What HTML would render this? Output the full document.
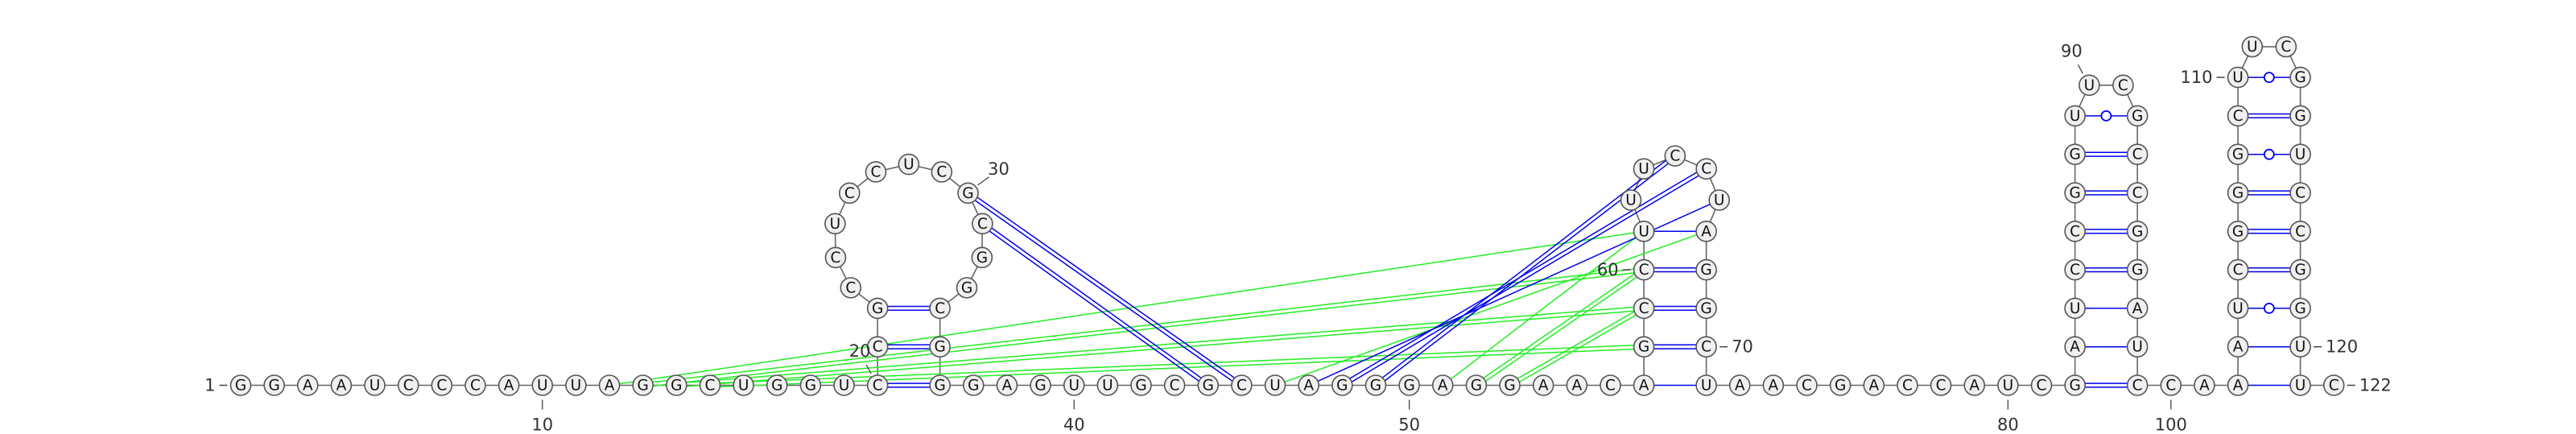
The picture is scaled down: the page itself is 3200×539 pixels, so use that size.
<!DOCTYPE html>
<html><head><meta charset="utf-8">
<style>
html,body{margin:0;padding:0;background:#fff;}
svg{display:block;}
.nt{fill:#f0f0f0;stroke:#555;stroke-width:1.6;}
.lt{font-family:"DejaVu Sans","Liberation Sans",sans-serif;font-size:18.5px;fill:#111;text-anchor:middle;dominant-baseline:central;}
.num{font-family:"DejaVu Sans","Liberation Sans",sans-serif;font-size:21px;fill:#333;dominant-baseline:central;}
</style></head>
<body>
<svg id="chart" width="3200" height="539" viewBox="0 0 3200 539" xmlns="http://www.w3.org/2000/svg">
<g id="backbone"></g>
<g id="tert"></g>
<g id="pairs"></g>
<g id="nts"></g>
<g id="labels"></g>
</svg>
<script>
const sequenceParts = ["GGAAUCCCAUUAGGCUGGUC","CGCCUCCUCGCGGCGG","GAGUUGCGCUAGGGAGGAACA","GCCUUUCCUAGGCU","AACGACCAUC","GAUCCGGUUCGCCGGAUC","CAAAUCGGGCUUCGGUCCGGUUC"];
const sequence = sequenceParts.join("");
// helices: [start5, end3, length]
const helices = [[20,36,3],[57,71,5],[82,99,8],[102,121,9]];
// long-range interactions
const blueLinks = [[30,45],[31,44],[47,66],[48,65],[49,64]];
const greenLinks = [[12,61],[13,60],[14,59],[15,58],[46,67],[51,61],[52,60],[53,59]];
// position labels
const tickNums = [10,40,50,80,100];
const sideLabels = [[1,"left"],[20,"ul"],[30,"ur"],[60,"left"],[70,"right"],[90,"ul"],[110,"left"],[120,"right"],[122,"right"]];

const NS="http://www.w3.org/2000/svg";
const STEP=41.64, ROW=47.8, BASEY=478.5, X0=299, R=12.5, WIDTH=77.5;
const N=sequence.length;
const pos=new Array(N+1);

function solveR(n,d,w){
  let lo=w/2+1e-6,hi=2000;
  for(let it=0;it<100;it++){const m=(lo+hi)/2;const t=2*n*Math.asin(Math.min(1,d/2/m))+2*Math.asin(Math.min(1,w/2/m));if(t>2*Math.PI)lo=m;else hi=m;}
  return (lo+hi)/2;
}
let x=X0, i=1;
while(i<=N){
  const h=helices.find(hh=>hh[0]===i);
  if(h){
    const [a,b,len]=h;
    for(let k=0;k<len;k++){pos[a+k]=[x,BASEY-k*ROW];pos[b-k]=[x+WIDTH,BASEY-k*ROW];}
    const L=a+len-1, Rr=b-len+1, nl=Rr-L-1;
    const rad=solveR(nl+1,42,WIDTH);
    const cx=x+WIDTH/2, yc=BASEY-(len-1)*ROW;
    const cy=yc-Math.sqrt(Math.max(0,rad*rad-WIDTH*WIDTH/4));
    const tc=2*Math.asin(WIDTH/2/rad), ts=(2*Math.PI-tc)/(nl+1);
    for(let k=1;k<=nl;k++){const an=Math.PI/2+tc/2+k*ts;pos[L+k]=[cx+rad*Math.cos(an),cy+rad*Math.sin(an)];}
    x+=WIDTH+STEP; i=b+1;
  } else {pos[i]=[x,BASEY];x+=STEP;i++;}
}

function line(g,x1,y1,x2,y2,col,w,name){
  const l=document.createElementNS(NS,"line");
  l.setAttribute("x1",x1);l.setAttribute("y1",y1);l.setAttribute("x2",x2);l.setAttribute("y2",y2);
  l.setAttribute("stroke",col);l.setAttribute("stroke-width",w);
  
  
  g.appendChild(l);return l;
}
const bb=document.getElementById("backbone");
for(let k=1;k<N;k++){line(bb,pos[k][0],pos[k][1],pos[k+1][0],pos[k+1][1],"#666",1.6,"backbone-"+k);}

function isGC(a,b){const s=a+b;return s==="GC"||s==="CG";}
function isGU(a,b){const s=a+b;return s==="GU"||s==="UG";}
function drawLink(g,a,b,col,name,clip){
  const p=pos[a],q=pos[b];
  const dx=q[0]-p[0],dy=q[1]-p[1],len=Math.hypot(dx,dy),ux=dx/len,uy=dy/len;
  const cut=clip?R:R*0.6;
  const x1=p[0]+ux*cut,y1=p[1]+uy*cut,x2=q[0]-ux*cut,y2=q[1]-uy*cut;
  const A=sequence[a-1],B=sequence[b-1];
  if(isGC(A,B)){const o=2.4,nx=-uy*o,ny=ux*o;
    line(g,x1+nx,y1+ny,x2+nx,y2+ny,col,1.5,name);line(g,x1-nx,y1-ny,x2-nx,y2-ny,col,1.5,name);}
  else if(isGU(A,B)&&clip){
    line(g,x1,y1,x2,y2,col,1.5,name);
    const c=document.createElementNS(NS,"circle");
    c.setAttribute("cx",(p[0]+q[0])/2);c.setAttribute("cy",(p[1]+q[1])/2);c.setAttribute("r",6);
    c.setAttribute("fill","#fff");c.setAttribute("stroke",col);c.setAttribute("stroke-width",1.8);
    
    
    g.appendChild(c);
  } else line(g,x1,y1,x2,y2,col,1.5,name);
}
const tg=document.getElementById("tert");
greenLinks.forEach(l=>drawLink(tg,l[0],l[1],"#22ee22","tertiary-green-"+l[0]+"-"+l[1],false));
blueLinks.forEach(l=>drawLink(tg,l[0],l[1],"#0000ee","tertiary-blue-"+l[0]+"-"+l[1],false));
const pg=document.getElementById("pairs");
helices.forEach(h=>{for(let k=0;k<h[2];k++)drawLink(pg,h[0]+k,h[1]-k,"#0000ee","pair-"+(h[0]+k)+"-"+(h[1]-k),true);});

const ng=document.getElementById("nts");
for(let k=1;k<=N;k++){
  const g=document.createElementNS(NS,"g");
  
  
  const c=document.createElementNS(NS,"circle");
  c.setAttribute("cx",pos[k][0]);c.setAttribute("cy",pos[k][1]);c.setAttribute("r",R);c.setAttribute("class","nt");
  
  
  const t=document.createElementNS(NS,"text");
  t.setAttribute("x",pos[k][0]);t.setAttribute("y",pos[k][1]+0.5);t.setAttribute("class","lt");
  
  
  t.textContent=sequence[k-1];
  g.appendChild(c);g.appendChild(t);ng.appendChild(g);
}
const lg=document.getElementById("labels");
function txt(xx,yy,s,anchor,name){
  const t=document.createElementNS(NS,"text");
  t.setAttribute("x",xx);t.setAttribute("y",yy);t.setAttribute("class","num");t.setAttribute("text-anchor",anchor);
  
  
  t.textContent=s;lg.appendChild(t);
}
tickNums.forEach(n=>{const p=pos[n];line(lg,p[0],p[1]+18,p[0],p[1]+30,"#444",1.3,"tick-"+n);txt(p[0],p[1]+49,String(n),"middle","label-"+n);});
sideLabels.forEach(([n,side])=>{
  const p=pos[n];
  if(side==="left"){line(lg,p[0]-R-4,p[1],p[0]-R-14,p[1],"#444",1.5,"label-line-"+n);txt(p[0]-R-19,p[1],String(n),"end","label-"+n);}
  else if(side==="right"){line(lg,p[0]+R+4,p[1],p[0]+R+14,p[1],"#444",1.5,"label-line-"+n);txt(p[0]+R+19,p[1],String(n),"start","label-"+n);}
  else if(side==="ul"){line(lg,p[0]-8,p[1]-R-2,p[0]-14,p[1]-R-13,"#444",1.3,"label-line-"+n);txt(p[0]-22,p[1]-R-30,String(n),"middle","label-"+n);}
  else {line(lg,p[0]+12,p[1]-10,p[0]+26,p[1]-20,"#444",1.3,"label-line-"+n);txt(p[0]+38,p[1]-30,String(n),"middle","label-"+n);}
});
</script>
</body></html>
